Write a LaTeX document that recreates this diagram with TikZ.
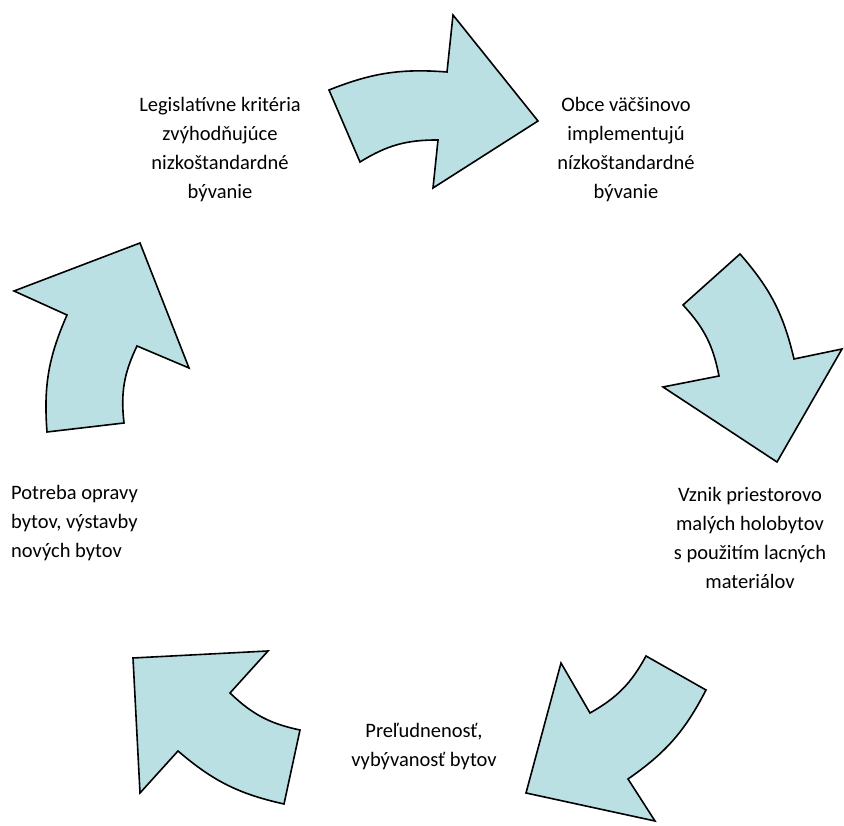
\documentclass[tikz,border=0pt]{standalone}
\usepackage{fontspec}
\setmainfont{Carlito}
\usepackage{xcolor}
\usepackage{tikz}
\usetikzlibrary{positioning}

\definecolor{cyclefill}{RGB}{187,224,227}

\begin{document}
\begin{tikzpicture}[x=1pt, y=1pt,
    cyclearrow/.style={draw=black, line width=1.6pt, fill=cyclefill, line join=miter},
    label/.style={font=\fontsize{20.5}{29}\selectfont, align=center, inner sep=0pt}]
    \useasboundingbox (0,0) rectangle (844,826);

    % Arrow at the top, pointing right
    \draw[cyclearrow] (329,736) to[bend left=13] (447,754) -- (453,811) -- (538,705)
        -- (433,638) -- (438,686) to[bend right=16] (360,664) -- cycle;

    % Arrow on the right, pointing down
    \draw[cyclearrow] (740,572) -- (683,521) to[bend left=16] (719,450) -- (663,439)
        -- (777,364) -- (842,477) -- (794,467) to[bend right=14] cycle;

    % Arrow at the bottom right, pointing down-left
    \draw[cyclearrow] (646,170) -- (706,136) to[bend left=14] (628,47) -- (655,5)
        -- (526,33) -- (561,163) -- (590,113) to[bend right=16] cycle;

    % Arrow at the bottom left, pointing up-left
    \draw[cyclearrow] (133,168) -- (268,175) -- (230,133) to[bend right=16] (300,96)
        -- (284,22) to[bend left=14] (178,75) -- (140,33) -- cycle;

    % Arrow on the left, pointing up
    \draw[cyclearrow] (140,583) -- (189,458) -- (137,480) to[bend right=16] (124,403)
        -- (47,394) to[bend left=14] (67,511) -- (14,535) -- cycle;

    % Texts between the arrows
    \node[label] (legis) at (220,676) {Legislatívne kritéria\\zvýhodňujúce\\nizkoštandardné\\bývanie};
    \node[label] (obce) at (626,676) {Obce väčšinovo\\implementujú\\nízkoštandardné\\bývanie};
    \node[label] (vznik) at (750,288) {Vznik priestorovo\\malých holobytov\\s použitím lacných\\materiálov};
    \node[label] (prel) at (424,79) {Preľudnenosť,\\vybývanosť bytov};
    \node[label, align=left, anchor=west] (potreba) at (11,303) {Potreba opravy\\bytov, výstavby\\nových bytov};
\end{tikzpicture}
\end{document}
